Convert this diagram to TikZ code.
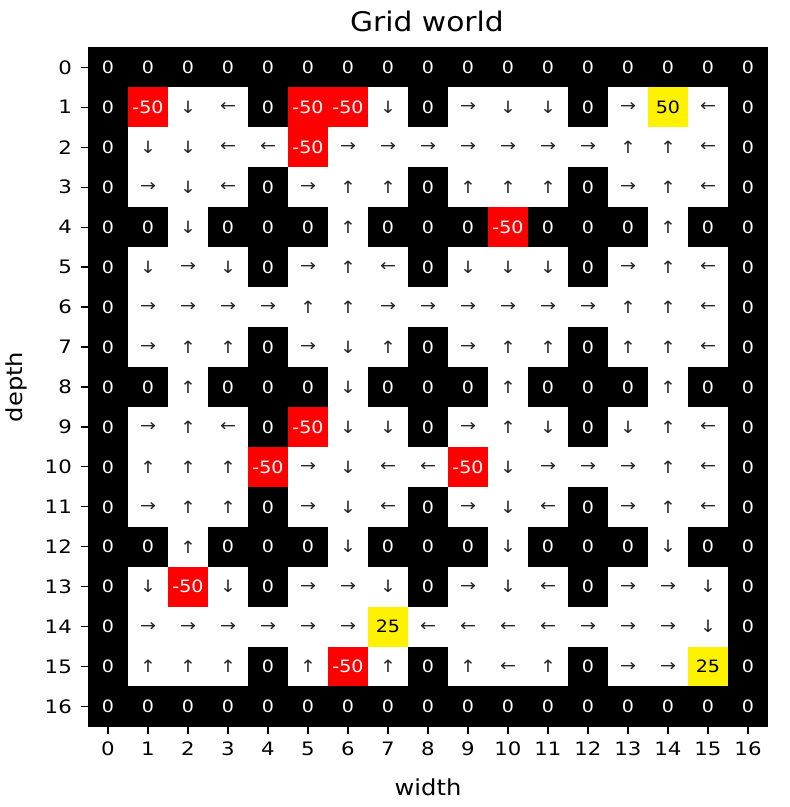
\documentclass[tikz,border=0pt]{standalone}
\usepackage{fontspec}
\setmainfont{DejaVu Sans}
\newfontfamily\cellfont[FakeStretch=1.12]{DejaVu Sans}
\newfontfamily\tickfont[FakeStretch=1.15]{DejaVu Sans}
\newfontfamily\titlefont[FakeStretch=1.1]{DejaVu Sans}
\begin{document}
\begin{tikzpicture}[x=1pt,y=-1pt,
  cell/.style={minimum width=40.4pt,minimum height=40.3pt,inner sep=0pt,outer sep=0pt,font=\cellfont\fontsize{17}{17}\selectfont},
  gw0/.style={fill=black,text=white},
  gwn/.style={fill=red,text=white},
  gwf/.style={fill=yellow,text=black},
  gwt/.style={fill=yellow,text=black},
  gwu/.style={fill=white,text=black!85},
  gwd/.style={fill=white,text=black!85},
  gwl/.style={fill=white,text=black!85},
  gwr/.style={fill=white,text=black!85},
  ticklab/.style={font=\tickfont\fontsize{18.5}{18.5}\selectfont,inner sep=0pt},
  axlab/.style={font=\titlefont\fontsize{22}{22}\selectfont,inner sep=0pt},
  tickline/.style={line width=1.2pt,black}
]
\useasboundingbox (0,0) rectangle (790,807);
\expandafter\def\csname gwtext0\endcsname{0}
\expandafter\def\csname gwtextn\endcsname{-50}
\expandafter\def\csname gwtextf\endcsname{50}
\expandafter\def\csname gwtextt\endcsname{25}
\expandafter\def\csname gwtextu\endcsname{↑}
\expandafter\def\csname gwtextd\endcsname{↓}
\expandafter\def\csname gwtextl\endcsname{←}
\expandafter\def\csname gwtextr\endcsname{→}
\fill[black] (88,47.3) rectangle (768,726.7);
\foreach \row [count=\r from 0] in {
 {0,0,0,0,0,0,0,0,0,0,0,0,0,0,0,0,0},
 {0,n,d,l,0,n,n,d,0,r,d,d,0,r,f,l,0},
 {0,d,d,l,l,n,r,r,r,r,r,r,r,u,u,l,0},
 {0,r,d,l,0,r,u,u,0,u,u,u,0,r,u,l,0},
 {0,0,d,0,0,0,u,0,0,0,n,0,0,0,u,0,0},
 {0,d,r,d,0,r,u,l,0,d,d,d,0,r,u,l,0},
 {0,r,r,r,r,u,u,r,r,r,r,r,r,u,u,l,0},
 {0,r,u,u,0,r,d,u,0,r,u,u,0,u,u,l,0},
 {0,0,u,0,0,0,d,0,0,0,u,0,0,0,u,0,0},
 {0,r,u,l,0,n,d,d,0,r,u,d,0,d,u,l,0},
 {0,u,u,u,n,r,d,l,l,n,d,r,r,r,u,l,0},
 {0,r,u,u,0,r,d,l,0,r,d,l,0,r,u,l,0},
 {0,0,u,0,0,0,d,0,0,0,d,0,0,0,d,0,0},
 {0,d,n,d,0,r,r,d,0,r,d,l,0,r,r,d,0},
 {0,r,r,r,r,r,r,t,l,l,l,l,r,r,r,d,0},
 {0,u,u,u,0,u,n,u,0,u,l,u,0,r,r,t,0},
 {0,0,0,0,0,0,0,0,0,0,0,0,0,0,0,0,0}} {
  \foreach \c [count=\k from 0] in \row {
    \node[cell,gw\c] (c-\r-\k) at ({108+40*\k},{67.28+39.96*\r}) {\csname gwtext\c\endcsname};
  }
}
% ticks and tick labels
\foreach \i in {0,...,16} {
  \coordinate (yt-\i) at (88,{67.28+39.96*\i});
  \coordinate (yt0-\i) at (81,{67.28+39.96*\i});
  \draw[tickline] (yt0-\i) -- (yt-\i);
  \node[ticklab,anchor=east] (yl-\i) at (72,{67.28+39.96*\i}) {\i};
  \coordinate (xt-\i) at ({108+40*\i},726.7);
  \coordinate (xt0-\i) at ({108+40*\i},733.7);
  \draw[tickline] (xt-\i) -- (xt0-\i);
  \node[ticklab,anchor=north] (xl-\i) at ({108+40*\i},742) {\i};
}
\node[font=\titlefont\fontsize{27}{27}\selectfont,inner sep=0pt] (title) at (427,21) {Grid world};
\node[axlab] (xlab) at (428,787) {width};
\node[axlab,rotate=90] (ylab) at (16,387) {depth};
\end{tikzpicture}
\end{document}
